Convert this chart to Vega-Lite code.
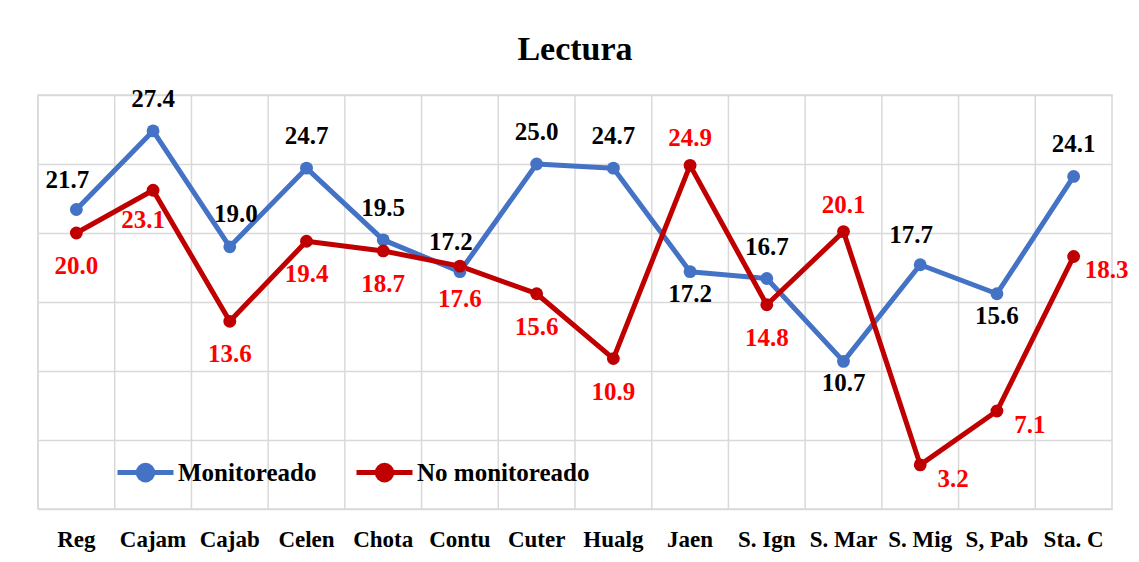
{
  "$schema": "https://vega.github.io/schema/vega-lite/v6.json",
  "width": 1074,
  "height": 414,
  "autosize": {"type": "none"},
  "padding": {"left": 38, "top": 95, "right": 27, "bottom": 53},
  "background": "white",
  "config": {"view": {"stroke": "#d9d9d9", "strokeWidth": 1.5}, "font": "Liberation Serif"},
  "title": {"text": "Lectura", "font": "Liberation Serif", "fontSize": 34, "fontWeight": "bold", "color": "black", "baseline": "alphabetic", "offset": -7, "anchor": "middle"},
  "data": {"values": [
    {"cat": "Reg", "serie": "Monitoreado", "value": 21.7},
    {"cat": "Cajam", "serie": "Monitoreado", "value": 27.4},
    {"cat": "Cajab", "serie": "Monitoreado", "value": 19.0},
    {"cat": "Celen", "serie": "Monitoreado", "value": 24.7},
    {"cat": "Chota", "serie": "Monitoreado", "value": 19.5},
    {"cat": "Contu", "serie": "Monitoreado", "value": 17.2},
    {"cat": "Cuter", "serie": "Monitoreado", "value": 25.0},
    {"cat": "Hualg", "serie": "Monitoreado", "value": 24.7},
    {"cat": "Jaen", "serie": "Monitoreado", "value": 17.2},
    {"cat": "S. Ign", "serie": "Monitoreado", "value": 16.7},
    {"cat": "S. Mar", "serie": "Monitoreado", "value": 10.7},
    {"cat": "S. Mig", "serie": "Monitoreado", "value": 17.7},
    {"cat": "S, Pab", "serie": "Monitoreado", "value": 15.6},
    {"cat": "Sta. C", "serie": "Monitoreado", "value": 24.1},
    {"cat": "Reg", "serie": "No monitoreado", "value": 20.0},
    {"cat": "Cajam", "serie": "No monitoreado", "value": 23.1},
    {"cat": "Cajab", "serie": "No monitoreado", "value": 13.6},
    {"cat": "Celen", "serie": "No monitoreado", "value": 19.4},
    {"cat": "Chota", "serie": "No monitoreado", "value": 18.7},
    {"cat": "Contu", "serie": "No monitoreado", "value": 17.6},
    {"cat": "Cuter", "serie": "No monitoreado", "value": 15.6},
    {"cat": "Hualg", "serie": "No monitoreado", "value": 10.9},
    {"cat": "Jaen", "serie": "No monitoreado", "value": 24.9},
    {"cat": "S. Ign", "serie": "No monitoreado", "value": 14.8},
    {"cat": "S. Mar", "serie": "No monitoreado", "value": 20.1},
    {"cat": "S. Mig", "serie": "No monitoreado", "value": 3.2},
    {"cat": "S, Pab", "serie": "No monitoreado", "value": 7.1},
    {"cat": "Sta. C", "serie": "No monitoreado", "value": 18.3}
  ]},
  "encoding": {
    "x": {"field": "cat", "type": "nominal", "bandPosition": 0.5,
      "scale": {"type": "band", "domain": ["Reg", "Cajam", "Cajab", "Celen", "Chota", "Contu", "Cuter", "Hualg", "Jaen", "S. Ign", "S. Mar", "S. Mig", "S, Pab", "Sta. C"], "paddingInner": 0, "paddingOuter": 0},
      "axis": {"title": null, "grid": false, "ticks": false, "domain": false, "labelAngle": 0, "labelFont": "Liberation Serif", "labelFontSize": 23, "labelFontWeight": "bold", "labelColor": "black", "labelPadding": 19, "labelBaseline": "top"}}
  },
  "layer": [
    {
      "transform": [{"filter": {"field": "serie", "equal": "Monitoreado"}}],
      "mark": {"type": "rule", "color": "#d9d9d9", "strokeWidth": 1.5},
      "encoding": {
        "x": {"field": "cat", "type": "nominal", "bandPosition": 0,
          "scale": {"type": "band", "domain": ["Reg", "Cajam", "Cajab", "Celen", "Chota", "Contu", "Cuter", "Hualg", "Jaen", "S. Ign", "S. Mar", "S. Mig", "S, Pab", "Sta. C"], "paddingInner": 0, "paddingOuter": 0},
          "axis": {"title": null, "grid": false, "ticks": false, "domain": false, "labelAngle": 0, "labelFont": "Liberation Serif", "labelFontSize": 23, "labelFontWeight": "bold", "labelColor": "black", "labelPadding": 19, "labelBaseline": "top"}}
      }
    },
    {
      "mark": {"type": "line", "strokeWidth": 5, "strokeJoin": "round", "strokeCap": "round", "point": {"filled": true, "size": 165, "opacity": 1}},
      "encoding": {
        "y": {"field": "value", "type": "quantitative", "scale": {"domain": [0, 30], "nice": false, "zero": true},
          "axis": {"values": [0, 5, 10, 15, 20, 25, 30], "grid": true, "gridColor": "#d9d9d9", "gridWidth": 1.5, "labels": false, "ticks": false, "domain": false, "title": null}},
        "color": {"field": "serie", "type": "nominal",
          "scale": {"domain": ["Monitoreado", "No monitoreado"], "range": ["#4472C4", "#C00000"]},
          "legend": {"orient": "none", "legendX": 77, "legendY": 347, "direction": "horizontal", "title": null, "padding": 0,
            "symbolType": "M-1,0H1M0.26,0A0.26,0.26 0 1,1 -0.26,0A0.26,0.26 0 1,1 0.26,0Z",
            "symbolSize": 3136, "symbolStrokeWidth": 5,
            "labelFont": "Liberation Serif", "labelFontSize": 25, "labelFontWeight": "bold", "labelColor": "black", "labelOffset": 2, "columnPadding": 29, "labelLimit": 400,
            "encode": {"symbols": {"update": {"fill": {"scale": "color", "field": "value"}, "stroke": {"scale": "color", "field": "value"}, "opacity": {"value": 1}}}}}}
      }
    },
    {
      "transform": [{"filter": {"field": "serie", "equal": "Monitoreado"}}, {"filter": {"field": "cat", "oneOf": ["Cajam", "Celen", "Chota", "Cuter", "Hualg", "S. Ign", "Sta. C"]}}],
      "mark": {"type": "text", "dy": -32, "fontSize": 25, "fontWeight": "bold", "color": "black", "font": "Liberation Serif"},
      "encoding": {"y": {"field": "value", "type": "quantitative"}, "text": {"field": "value", "type": "quantitative", "format": ".1f"}}
    },
    {
      "transform": [{"filter": {"field": "serie", "equal": "Monitoreado"}}, {"filter": {"field": "cat", "oneOf": ["Cajab"]}}],
      "mark": {"type": "text", "dx": 6, "dy": -33, "fontSize": 25, "fontWeight": "bold", "color": "black", "font": "Liberation Serif"},
      "encoding": {"y": {"field": "value", "type": "quantitative"}, "text": {"field": "value", "type": "quantitative", "format": ".1f"}}
    },
    {
      "transform": [{"filter": {"field": "serie", "equal": "Monitoreado"}}, {"filter": {"field": "cat", "oneOf": ["Reg", "Contu", "S. Mig"]}}],
      "mark": {"type": "text", "dx": -9, "dy": -30, "fontSize": 25, "fontWeight": "bold", "color": "black", "font": "Liberation Serif"},
      "encoding": {"y": {"field": "value", "type": "quantitative"}, "text": {"field": "value", "type": "quantitative", "format": ".1f"}}
    },
    {
      "transform": [{"filter": {"field": "serie", "equal": "Monitoreado"}}, {"filter": {"field": "cat", "oneOf": ["Jaen", "S. Mar", "S, Pab"]}}],
      "mark": {"type": "text", "dy": 22, "fontSize": 25, "fontWeight": "bold", "color": "black", "font": "Liberation Serif"},
      "encoding": {"y": {"field": "value", "type": "quantitative"}, "text": {"field": "value", "type": "quantitative", "format": ".1f"}}
    },
    {
      "transform": [{"filter": {"field": "serie", "equal": "No monitoreado"}}, {"filter": {"field": "cat", "oneOf": ["Reg", "Cajab", "Celen", "Chota", "Contu", "Cuter", "Hualg", "S. Ign"]}}],
      "mark": {"type": "text", "dy": 33, "fontSize": 25, "fontWeight": "bold", "color": "#FF0000", "font": "Liberation Serif"},
      "encoding": {"y": {"field": "value", "type": "quantitative"}, "text": {"field": "value", "type": "quantitative", "format": ".1f"}}
    },
    {
      "transform": [{"filter": {"field": "serie", "equal": "No monitoreado"}}, {"filter": {"field": "cat", "oneOf": ["Cajam"]}}],
      "mark": {"type": "text", "dx": -10, "dy": 30, "fontSize": 25, "fontWeight": "bold", "color": "#FF0000", "font": "Liberation Serif"},
      "encoding": {"y": {"field": "value", "type": "quantitative"}, "text": {"field": "value", "type": "quantitative", "format": ".1f"}}
    },
    {
      "transform": [{"filter": {"field": "serie", "equal": "No monitoreado"}}, {"filter": {"field": "cat", "oneOf": ["Jaen", "S. Mar"]}}],
      "mark": {"type": "text", "dy": -27, "fontSize": 25, "fontWeight": "bold", "color": "#FF0000", "font": "Liberation Serif"},
      "encoding": {"y": {"field": "value", "type": "quantitative"}, "text": {"field": "value", "type": "quantitative", "format": ".1f"}}
    },
    {
      "transform": [{"filter": {"field": "serie", "equal": "No monitoreado"}}, {"filter": {"field": "cat", "oneOf": ["S. Mig", "S, Pab", "Sta. C"]}}],
      "mark": {"type": "text", "dx": 33, "dy": 14, "fontSize": 25, "fontWeight": "bold", "color": "#FF0000", "font": "Liberation Serif"},
      "encoding": {"y": {"field": "value", "type": "quantitative"}, "text": {"field": "value", "type": "quantitative", "format": ".1f"}}
    }
  ]
}
